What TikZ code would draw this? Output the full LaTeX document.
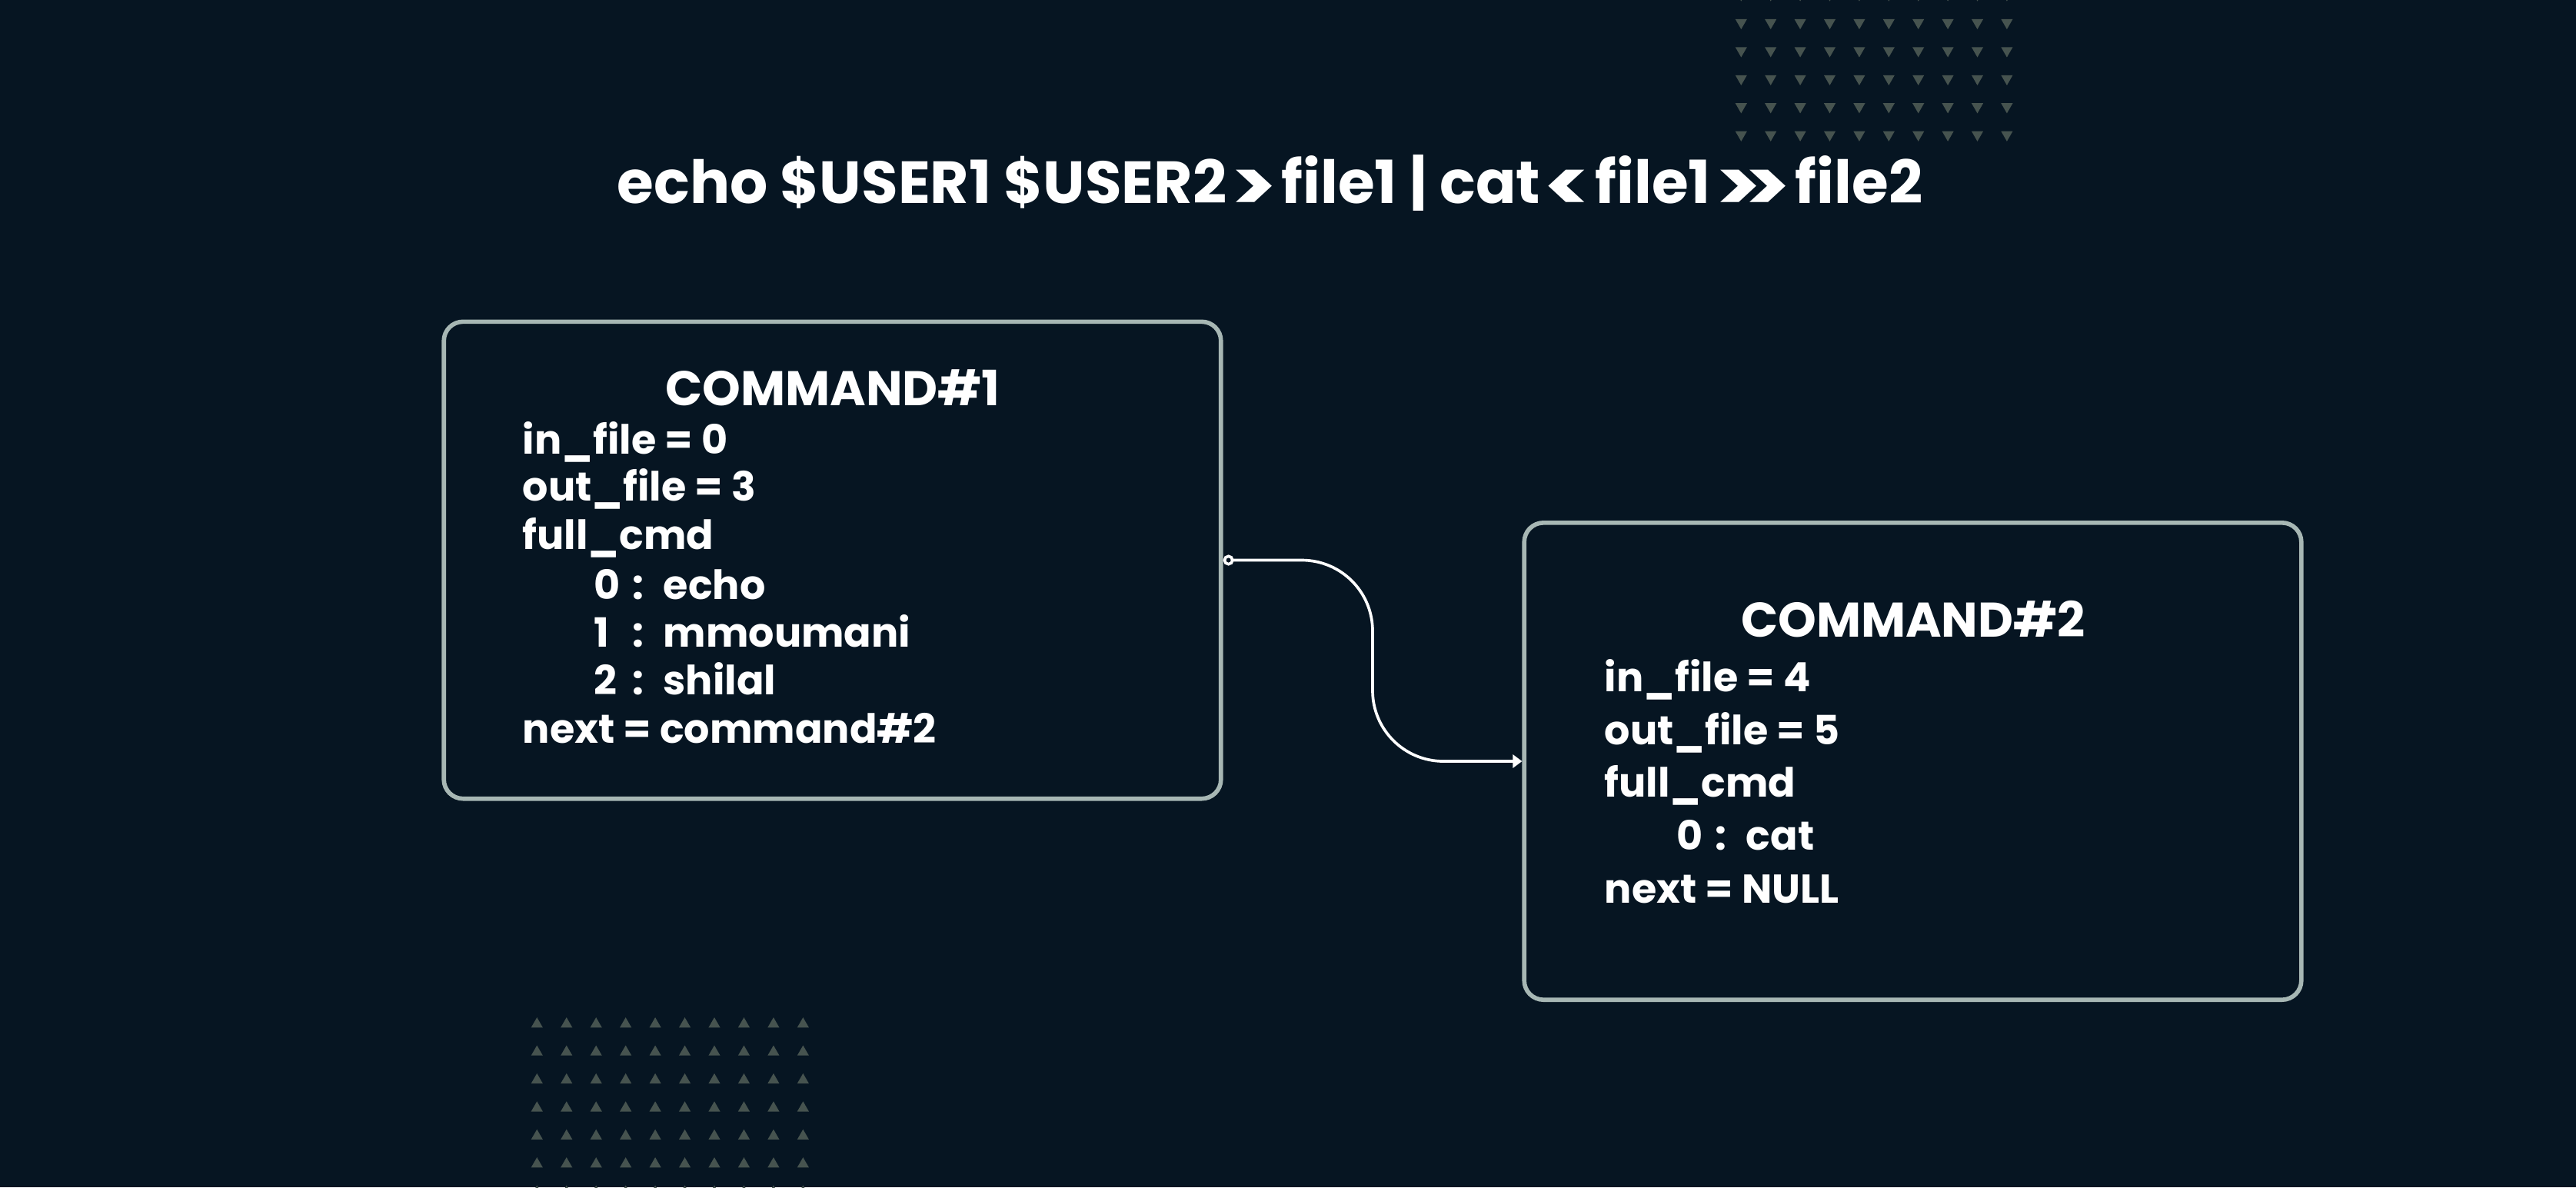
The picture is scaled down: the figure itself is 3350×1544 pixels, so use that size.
\documentclass[tikz,border=0pt]{standalone}
\usepackage{fontspec}
\usepackage{graphicx}
\setmainfont{Poppins}
\usetikzlibrary{arrows.meta,calc}
\definecolor{bg}{HTML}{061522}
\definecolor{boxline}{HTML}{A7B7B4}
\definecolor{tri}{HTML}{46534F}
\newcommand\cmdsub[2]{\makebox[0.5cm][l]{#1}\makebox[0.4cm][l]{:}#2}
\newcommand\gtsym{\makebox[0.5em]{\raisebox{-0.15em}{\scalebox{1.45}[1.23]{>}}}}
\newcommand\ltsym{\makebox[0.5em]{\raisebox{-0.15em}{\scalebox{1.45}[1.23]{<}}}}
\tikzset{
  cmdbox/.style={draw=boxline, line width=1.6pt, rounded corners=0.25cm,
    minimum width=10.1cm, minimum height=6.2cm, inner sep=0pt, fill=bg},
  txt/.style={text=white, font=\bfseries\fontsize{14.9}{18}\selectfont,
    anchor=base west, inner sep=0pt},
  hdr/.style={text=white, font=\bfseries\fontsize{18}{21}\selectfont,
    anchor=base, inner sep=0pt},
  ttl/.style={text=white, font=\bfseries\fontsize{22}{27}\selectfont,
    anchor=base, inner sep=0pt},
  trimark/.style={fill=tri},
  link/.style={draw=white, line width=1.05pt, rounded corners=0.92cm,
    {Circle[open,length=0.14cm,width=0.14cm]}-{Triangle[length=0.12cm,width=0.17cm]}}
}
\begin{document}
\begin{tikzpicture}[x=0.01cm, y=-0.01cm]
\fill[bg] (0,0) rectangle (3350,1544);
\useasboundingbox (0,0) rectangle (3350,1544);
% decorative triangles
\foreach \i in {0,...,9}{
  \foreach \j in {0,...,5}{
    \pgfmathsetmacro\cx{2264.3+38.4*\i}
    \pgfmathsetmacro\cy{-5+36.45*\j}
    \fill[trimark] (\cx-7.6,\cy-6.6) -- (\cx+7.6,\cy-6.6) -- (\cx,\cy+6.6) -- cycle;
  }
  \foreach \j in {0,...,6}{
    \pgfmathsetmacro\cx{698.3+38.45*\i}
    \pgfmathsetmacro\cy{1329.7+36.4*\j}
    \fill[trimark] (\cx-7.6,\cy+6.6) -- (\cx+7.6,\cy+6.6) -- (\cx,\cy-6.6) -- cycle;
  }
}
\node[ttl] (title) at (1651.5,264) {echo \$USER1 \$USER2 \gtsym{} file1 | cat \ltsym{} file1 \gtsym\gtsym{} file2};
% boxes
\node[cmdbox] (box1) at (1082.5,728.5) {};
\node[cmdbox] (box2) at (2487.5,990) {};
% box 1 text
\node[hdr] (h1) at (1083,527) {COMMAND\#1};
\node[txt] (a1) at (679,590) {in\_file = 0};
\node[txt] (a2) at (679,651) {out\_file = 3};
\node[txt] (a3) at (679,714) {full\_cmd};
\node[txt] (a4) at (772,779) {\cmdsub{0}{echo}};
\node[txt] (a5) at (772,841) {\cmdsub{1}{mmoumani}};
\node[txt] (a6) at (772,903) {\cmdsub{2}{shilal}};
\node[txt] (a7) at (679,966) {next = command\#2};
% box 2 text
\node[hdr] (h2) at (2488,828) {COMMAND\#2};
\node[txt] (b1) at (2086,899) {in\_file = 4};
\node[txt] (b2) at (2086,968) {out\_file = 5};
\node[txt] (b3) at (2086,1036) {full\_cmd};
\node[txt] (b4) at (2180,1105) {\cmdsub{0}{cat}};
\node[txt] (b5) at (2086,1174) {next = NULL};
% connector
\coordinate (mid) at ($(box1.east)!0.5!(box2.west)$);
\draw[link] (box1.east) -- (box1.east -| mid) -- (mid |- box2.west) -- (box2.west);
\end{tikzpicture}
\end{document}
